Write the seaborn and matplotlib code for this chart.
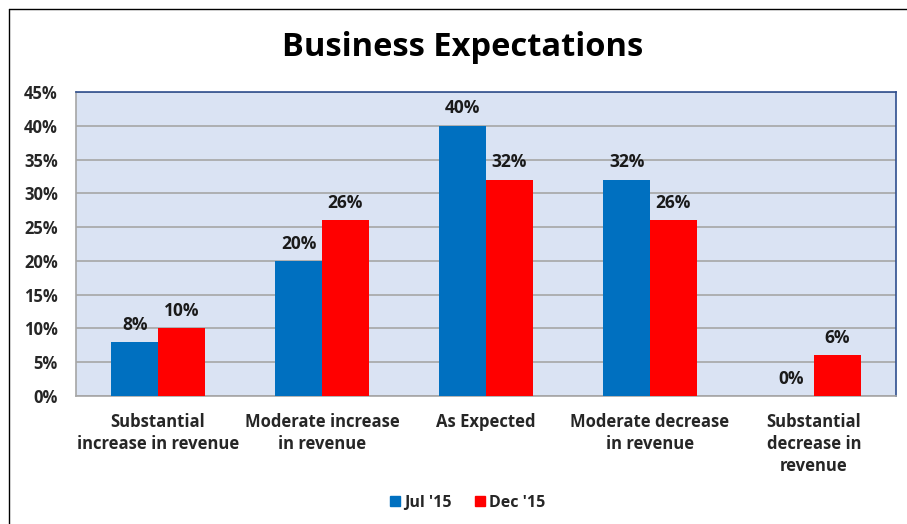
import matplotlib
matplotlib.use("Agg")
import matplotlib.pyplot as plt
from matplotlib.lines import Line2D
import seaborn as sns
import pandas as pd

categories = [
    "Substantial\nincrease in revenue",
    "Moderate increase\nin revenue",
    "As Expected",
    "Moderate decrease\nin revenue",
    "Substantial\ndecrease in\nrevenue",
]
jul_15 = [8, 20, 40, 32, 0]
dec_15 = [10, 26, 32, 26, 6]
series_names = ["Jul '15", "Dec '15"]
y_ticks = [0, 5, 10, 15, 20, 25, 30, 35, 40, 45]

df = pd.DataFrame({
    "Category": categories * 2,
    "Series": [series_names[0]] * len(categories) + [series_names[1]] * len(categories),
    "Value": jul_15 + dec_15,
})

sns.set_theme(style="white")
plt.rcParams["font.family"] = ["Open Sans", "DejaVu Sans"]
plt.rcParams["font.weight"] = "bold"

fig = plt.figure(figsize=(9.07, 5.24), dpi=100)
ax = fig.add_axes([76 / 907, 128 / 524, 820 / 907, 304 / 524])

palette = {"Jul '15": "#0070C0", "Dec '15": "#FF0000"}
sns.barplot(data=df, x="Category", y="Value", hue="Series", palette=palette,
            width=0.57, gap=0, saturation=1, linewidth=0, ax=ax, zorder=3, legend=False)

ax.set_facecolor("#DAE3F3")
ax.set_ylim(0, 45)
ax.set_yticks(y_ticks)
ax.set_yticklabels([f"{t}%" for t in y_ticks], fontsize=12, fontweight="bold")
ax.set_xticklabels(categories, fontsize=12, fontweight="bold", linespacing=1.3)
ax.set_xlabel("")
ax.set_ylabel("")
ax.tick_params(axis="x", length=0, pad=12)
ax.tick_params(axis="y", length=0, pad=13)
ax.grid(axis="y", color="#A6A6A6", linewidth=1.2, zorder=0)
ax.set_axisbelow(True)

for side in ["left", "bottom"]:
    ax.spines[side].set_color("#A6A6A6")
    ax.spines[side].set_linewidth(1.2)
for side in ["top", "right"]:
    ax.spines[side].set_color("#2F4F8F")
    ax.spines[side].set_linewidth(1.2)

for container in ax.containers:
    ax.bar_label(container, labels=[f"{v:.0f}%" for v in container.datavalues],
                 padding=6, fontsize=12.5, fontweight="bold", color="#1a1a1a")

fig.text(463 / 907, 1 - 47 / 524, "Business Expectations", ha="center", va="center",
         fontsize=23.5, fontweight="bold", color="black")

handles = [Line2D([0], [0], marker="s", linestyle="", markersize=7.5,
                  markerfacecolor=palette[s], markeredgecolor=palette[s]) for s in series_names]
fig.legend(handles, series_names, loc="center", bbox_to_anchor=(466 / 907, 1 - 503 / 524),
           ncol=2, frameon=False, prop={"size": 11.5, "weight": "bold"},
           handletextpad=0.05, columnspacing=1.3, handlelength=1.0)

# Outer chart frame along the top and left edges
fig.add_artist(Line2D([9 / 907, 1.0], [1 - 9 / 524, 1 - 9 / 524], color="black",
                      linewidth=1.0, transform=fig.transFigure))
fig.add_artist(Line2D([9 / 907, 9 / 907], [0.0, 1 - 9 / 524], color="black",
                      linewidth=1.0, transform=fig.transFigure))

fig.savefig("out.png", dpi=100, facecolor="white")
